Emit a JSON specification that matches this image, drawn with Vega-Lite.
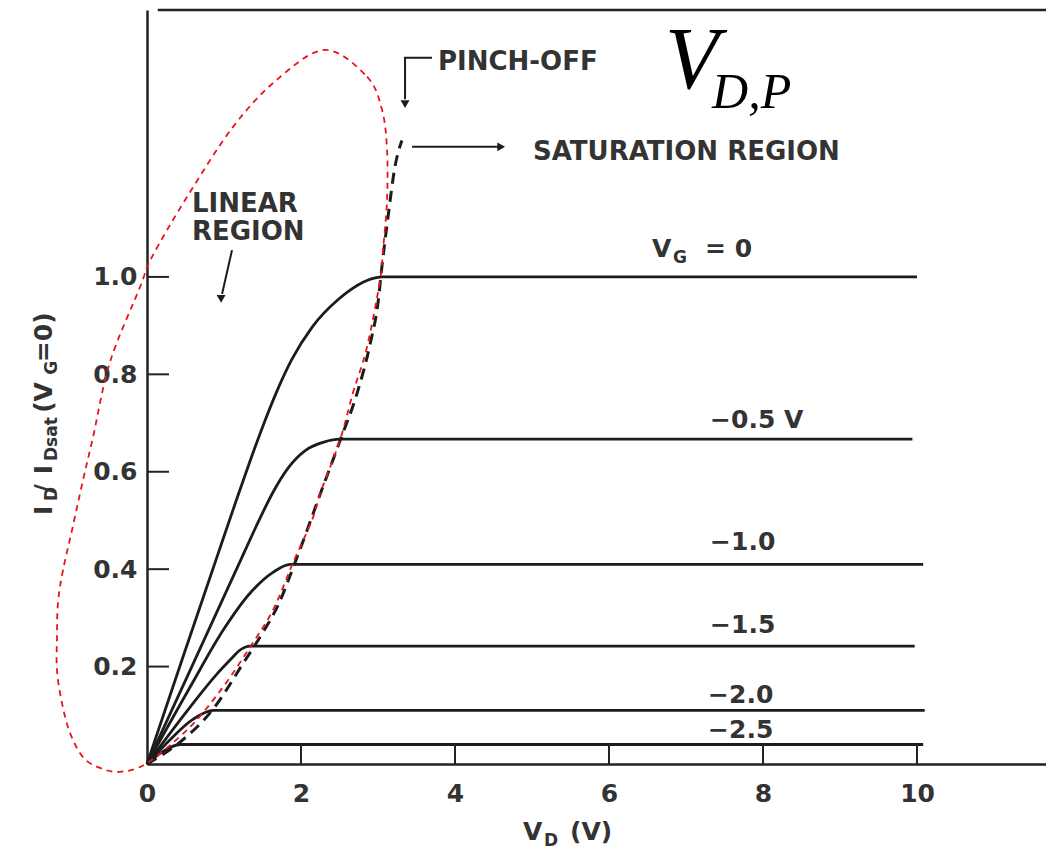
{
  "$schema": "https://vega.github.io/schema/vega-lite/v6.json",
  "width": 899,
  "height": 754,
  "autosize": "none",
  "padding": {"left": 147, "top": 10, "right": 0, "bottom": 88},
  "background": "white",
  "config": {
    "view": {"stroke": null},
    "axis": {"grid": false, "domainColor": "#222", "domainWidth": 2.5, "ticks": false, "tickSize": 0, "labelFont": "DejaVu Sans", "labelFontWeight": "bold", "labelFontSize": 25, "labelColor": "#333"}
  },
  "datasets": {
    "curves": [
      {"vg": "0", "vd": 0, "id": 0}, {"vg": "0", "vd": 0.455, "id": 0.214}, {"vg": "0", "vd": 0.896, "id": 0.419}, {"vg": "0", "vd": 1.161, "id": 0.542}, {"vg": "0", "vd": 1.343, "id": 0.624}, {"vg": "0", "vd": 1.501, "id": 0.692}, {"vg": "0", "vd": 1.678, "id": 0.762}, {"vg": "0", "vd": 1.879, "id": 0.83}, {"vg": "0", "vd": 2.145, "id": 0.897}, {"vg": "0", "vd": 2.479, "id": 0.953}, {"vg": "0", "vd": 2.965, "id": 0.998}, {"vg": "0", "vd": 3.06, "id": 1.0}, {"vg": "0", "vd": 10.0, "id": 1.0},
      {"vg": "-0.5", "vd": 0, "id": 0}, {"vg": "-0.5", "vd": 0.597, "id": 0.205}, {"vg": "-0.5", "vd": 1.218, "id": 0.419}, {"vg": "-0.5", "vd": 1.445, "id": 0.497}, {"vg": "-0.5", "vd": 1.64, "id": 0.559}, {"vg": "-0.5", "vd": 1.834, "id": 0.608}, {"vg": "-0.5", "vd": 2.068, "id": 0.645}, {"vg": "-0.5", "vd": 2.296, "id": 0.661}, {"vg": "-0.5", "vd": 2.506, "id": 0.667}, {"vg": "-0.5", "vd": 9.94, "id": 0.667},
      {"vg": "-1.0", "vd": 0, "id": 0}, {"vg": "-1.0", "vd": 0.56, "id": 0.158}, {"vg": "-1.0", "vd": 0.99, "id": 0.275}, {"vg": "-1.0", "vd": 1.34, "id": 0.351}, {"vg": "-1.0", "vd": 1.64, "id": 0.394}, {"vg": "-1.0", "vd": 1.86, "id": 0.41}, {"vg": "-1.0", "vd": 10.08, "id": 0.41},
      {"vg": "-1.5", "vd": 0, "id": 0}, {"vg": "-1.5", "vd": 0.56, "id": 0.117}, {"vg": "-1.5", "vd": 0.91, "id": 0.185}, {"vg": "-1.5", "vd": 1.1, "id": 0.217}, {"vg": "-1.5", "vd": 1.2, "id": 0.233}, {"vg": "-1.5", "vd": 1.34, "id": 0.242}, {"vg": "-1.5", "vd": 9.97, "id": 0.242},
      {"vg": "-2.0", "vd": 0, "id": 0}, {"vg": "-2.0", "vd": 0.3, "id": 0.05}, {"vg": "-2.0", "vd": 0.6, "id": 0.092}, {"vg": "-2.0", "vd": 0.86, "id": 0.11}, {"vg": "-2.0", "vd": 10.1, "id": 0.11},
      {"vg": "-2.5", "vd": 0, "id": 0}, {"vg": "-2.5", "vd": 0.2, "id": 0.025}, {"vg": "-2.5", "vd": 0.43, "id": 0.04}, {"vg": "-2.5", "vd": 10.08, "id": 0.04}
    ],
    "pinch": [
      {"vd": 0, "id": 0}, {"vd": 0.43, "id": 0.045}, {"vd": 0.86, "id": 0.113}, {"vd": 1.25, "id": 0.207}, {"vd": 1.5, "id": 0.269}, {"vd": 1.69, "id": 0.322}, {"vd": 1.95, "id": 0.425}, {"vd": 2.27, "id": 0.563}, {"vd": 2.51, "id": 0.665}, {"vd": 2.73, "id": 0.762}, {"vd": 2.9, "id": 0.864}, {"vd": 3.0, "id": 0.947}, {"vd": 3.05, "id": 1.02}, {"vd": 3.13, "id": 1.123}, {"vd": 3.22, "id": 1.226}, {"vd": 3.31, "id": 1.28}
    ],
    "ellipse": [
      {"i": 0, "vd": 2.312, "id": 1.466}, {"i": 1, "vd": 2.857, "id": 1.411}, {"i": 2, "vd": 3.052, "id": 1.343}, {"i": 3, "vd": 3.117, "id": 1.261}, {"i": 4, "vd": 3.117, "id": 1.158}, {"i": 5, "vd": 3.065, "id": 1.055}, {"i": 6, "vd": 3.026, "id": 0.993}, {"i": 7, "vd": 2.857, "id": 0.856}, {"i": 8, "vd": 2.675, "id": 0.762}, {"i": 9, "vd": 2.506, "id": 0.665}, {"i": 10, "vd": 2.26, "id": 0.56}, {"i": 11, "vd": 2.143, "id": 0.501}, {"i": 12, "vd": 1.896, "id": 0.413}, {"i": 13, "vd": 1.636, "id": 0.316}, {"i": 14, "vd": 1.338, "id": 0.24}, {"i": 15, "vd": 0.987, "id": 0.158}, {"i": 16, "vd": 0.558, "id": 0.076}, {"i": 17, "vd": 0, "id": 0.002}, {"i": 18, "vd": -0.351, "id": -0.016}, {"i": 19, "vd": -0.61, "id": -0.008}, {"i": 20, "vd": -0.831, "id": 0.014}, {"i": 21, "vd": -1.0, "id": 0.064}, {"i": 22, "vd": -1.104, "id": 0.125}, {"i": 23, "vd": -1.169, "id": 0.193}, {"i": 24, "vd": -1.169, "id": 0.261}, {"i": 25, "vd": -1.156, "id": 0.331}, {"i": 26, "vd": -1.091, "id": 0.398}, {"i": 27, "vd": -0.974, "id": 0.48}, {"i": 28, "vd": -0.831, "id": 0.583}, {"i": 29, "vd": -0.701, "id": 0.671}, {"i": 30, "vd": -0.481, "id": 0.825}, {"i": 31, "vd": -0.091, "id": 0.979}, {"i": 32, "vd": 0.065, "id": 1.041}, {"i": 33, "vd": 0.519, "id": 1.164}, {"i": 34, "vd": 1.117, "id": 1.308}, {"i": 35, "vd": 1.688, "id": 1.405}
    ],
    "xticks": [{"vd": 2}, {"vd": 4}, {"vd": 6}, {"vd": 8}, {"vd": 10}],
    "yticks": [{"id": 0.2}, {"id": 0.4}, {"id": 0.6}, {"id": 0.8}, {"id": 1.0}],
    "arrows": [
      {"a": "pinch", "o": 0, "vd": 3.701, "id": 1.45}, {"a": "pinch", "o": 1, "vd": 3.351, "id": 1.45}, {"a": "pinch", "o": 2, "vd": 3.351, "id": 1.365},
      {"a": "sat", "o": 0, "vd": 3.442, "id": 1.267}, {"a": "sat", "o": 1, "vd": 4.56, "id": 1.267},
      {"a": "lin", "o": 0, "vd": 1.104, "id": 1.055}, {"a": "lin", "o": 1, "vd": 0.975, "id": 0.965}
    ],
    "headsDown": [
      {"vd": 3.351, "id": 1.355}, {"vd": 0.962, "id": 0.955}
    ],
    "headsRight": [
      {"vd": 4.6, "id": 1.267}
    ],
    "notes": [
      {"t": "PINCH-OFF", "vd": 3.779, "id": 1.425},
      {"t": "SATURATION REGION", "vd": 5.013, "id": 1.24},
      {"t": "LINEAR", "vd": 0.584, "id": 1.133},
      {"t": "REGION", "vd": 0.584, "id": 1.076}
    ],
    "labels": [
      {"t": "V", "vd": 6.558, "id": 1.041},
      {"t": "= 0", "vd": 7.247, "id": 1.041},
      {"t": "−0.5 V", "vd": 7.312, "id": 0.69},
      {"t": "−1.0", "vd": 7.312, "id": 0.439},
      {"t": "−1.5", "vd": 7.312, "id": 0.269},
      {"t": "−2.0", "vd": 7.286, "id": 0.125},
      {"t": "−2.5", "vd": 7.286, "id": 0.053},
      {"t": "V", "vd": 4.883, "id": -0.156},
      {"t": "(V)", "vd": 5.494, "id": -0.156}
    ],
    "subs": [
      {"t": "G", "vd": 6.831, "id": 1.029},
      {"t": "D", "vd": 5.156, "id": -0.168}
    ],
    "bigV": [{"t": "V", "vd": 6.727, "id": 1.388}],
    "bigSub": [{"t": "D,P", "vd": 7.338, "id": 1.347}],
    "ytitle": [
      {"t": "I", "vd": -1.234, "id": 0.511},
      {"t": "/", "vd": -1.234, "id": 0.556},
      {"t": "I", "vd": -1.234, "id": 0.595},
      {"t": "(V", "vd": -1.234, "id": 0.721},
      {"t": "=0)", "vd": -1.234, "id": 0.825}
    ],
    "ysubs": [
      {"t": "D", "vd": -1.169, "id": 0.54},
      {"t": "Dsat", "vd": -1.169, "id": 0.622},
      {"t": "G", "vd": -1.169, "id": 0.799}
    ]
  },
  "layer": [
    {
      "data": {"name": "curves"},
      "mark": {"type": "line", "interpolate": "monotone", "strokeWidth": 2.8, "color": "#1c1c1c"},
      "encoding": {
        "x": {"field": "vd", "type": "quantitative", "scale": {"domain": [0, 11.675], "nice": false, "zero": false},
          "axis": {"title": null, "values": [0, 2, 4, 6, 8, 10], "format": "d", "labelPadding": 17, "labelFlush": false}},
        "y": {"field": "id", "type": "quantitative", "scale": {"domain": [0, 1.548], "nice": false, "zero": false},
          "axis": {"title": null, "values": [0.2, 0.4, 0.6, 0.8, 1.0], "format": ".1f", "labelPadding": 10, "labelFlush": false}},
        "detail": {"field": "vg"}
      }
    },
    {
      "data": {"values": [{"x0": 0.14, "x1": 11.675, "yt": 1.548}]},
      "mark": {"type": "rule", "strokeWidth": 2.5, "color": "#222"},
      "encoding": {
        "x": {"field": "x0", "type": "quantitative"},
        "x2": {"field": "x1"},
        "y": {"field": "yt", "type": "quantitative"}
      }
    },
    {
      "data": {"name": "xticks"},
      "mark": {"type": "rule", "strokeWidth": 2, "color": "#222"},
      "encoding": {
        "x": {"field": "vd", "type": "quantitative"},
        "y": {"datum": 0},
        "y2": {"datum": 0.041}
      }
    },
    {
      "data": {"name": "yticks"},
      "mark": {"type": "rule", "strokeWidth": 2, "color": "#222"},
      "encoding": {
        "y": {"field": "id", "type": "quantitative"},
        "x": {"datum": 0},
        "x2": {"datum": 0.286}
      }
    },
    {
      "data": {"name": "pinch"},
      "mark": {"type": "line", "interpolate": "monotone", "strokeWidth": 3, "color": "#1c1c1c", "strokeDash": [11, 7]},
      "encoding": {
        "x": {"field": "vd", "type": "quantitative"},
        "y": {"field": "id", "type": "quantitative"}
      }
    },
    {
      "data": {"name": "arrows"},
      "mark": {"type": "line", "strokeWidth": 2, "color": "#1c1c1c"},
      "encoding": {
        "x": {"field": "vd", "type": "quantitative"},
        "y": {"field": "id", "type": "quantitative"},
        "detail": {"field": "a"},
        "order": {"field": "o"}
      }
    },
    {
      "data": {"name": "headsDown"},
      "mark": {"type": "point", "shape": "triangle-down", "filled": true, "size": 80, "color": "#1c1c1c", "opacity": 1},
      "encoding": {
        "x": {"field": "vd", "type": "quantitative"},
        "y": {"field": "id", "type": "quantitative"}
      }
    },
    {
      "data": {"name": "headsRight"},
      "mark": {"type": "point", "shape": "triangle-right", "filled": true, "size": 80, "color": "#1c1c1c", "opacity": 1},
      "encoding": {
        "x": {"field": "vd", "type": "quantitative"},
        "y": {"field": "id", "type": "quantitative"}
      }
    },
    {
      "data": {"name": "notes"},
      "mark": {"type": "text", "align": "left", "baseline": "alphabetic", "font": "DejaVu Sans", "fontWeight": "bold", "fontSize": 26, "color": "#333"},
      "encoding": {
        "x": {"field": "vd", "type": "quantitative"},
        "y": {"field": "id", "type": "quantitative"},
        "text": {"field": "t"}
      }
    },
    {
      "data": {"name": "labels"},
      "mark": {"type": "text", "align": "left", "baseline": "alphabetic", "font": "DejaVu Sans", "fontWeight": "bold", "fontSize": 25, "color": "#333"},
      "encoding": {
        "x": {"field": "vd", "type": "quantitative"},
        "y": {"field": "id", "type": "quantitative"},
        "text": {"field": "t"}
      }
    },
    {
      "data": {"name": "subs"},
      "mark": {"type": "text", "align": "left", "baseline": "alphabetic", "font": "DejaVu Sans", "fontWeight": "bold", "fontSize": 17, "color": "#333"},
      "encoding": {
        "x": {"field": "vd", "type": "quantitative"},
        "y": {"field": "id", "type": "quantitative"},
        "text": {"field": "t"}
      }
    },
    {
      "data": {"name": "ytitle"},
      "mark": {"type": "text", "align": "left", "baseline": "alphabetic", "angle": 270, "font": "DejaVu Sans", "fontWeight": "bold", "fontSize": 25, "color": "#333"},
      "encoding": {
        "x": {"field": "vd", "type": "quantitative"},
        "y": {"field": "id", "type": "quantitative"},
        "text": {"field": "t"}
      }
    },
    {
      "data": {"name": "ysubs"},
      "mark": {"type": "text", "align": "left", "baseline": "alphabetic", "angle": 270, "font": "DejaVu Sans", "fontWeight": "bold", "fontSize": 17, "color": "#333"},
      "encoding": {
        "x": {"field": "vd", "type": "quantitative"},
        "y": {"field": "id", "type": "quantitative"},
        "text": {"field": "t"}
      }
    },
    {
      "data": {"name": "bigV"},
      "mark": {"type": "text", "align": "left", "baseline": "alphabetic", "font": "Liberation Serif", "fontStyle": "italic", "fontSize": 88, "color": "#000"},
      "encoding": {
        "x": {"field": "vd", "type": "quantitative"},
        "y": {"field": "id", "type": "quantitative"},
        "text": {"field": "t"}
      }
    },
    {
      "data": {"name": "bigSub"},
      "mark": {"type": "text", "align": "left", "baseline": "alphabetic", "font": "Liberation Serif", "fontStyle": "italic", "fontSize": 50, "color": "#000"},
      "encoding": {
        "x": {"field": "vd", "type": "quantitative"},
        "y": {"field": "id", "type": "quantitative"},
        "text": {"field": "t"}
      }
    },
    {
      "data": {"name": "ellipse"},
      "mark": {"type": "line", "interpolate": "cardinal-closed", "strokeWidth": 1.8, "color": "#e8141c", "strokeDash": [6, 5]},
      "encoding": {
        "x": {"field": "vd", "type": "quantitative"},
        "y": {"field": "id", "type": "quantitative"},
        "order": {"field": "i"}
      }
    }
  ]
}
